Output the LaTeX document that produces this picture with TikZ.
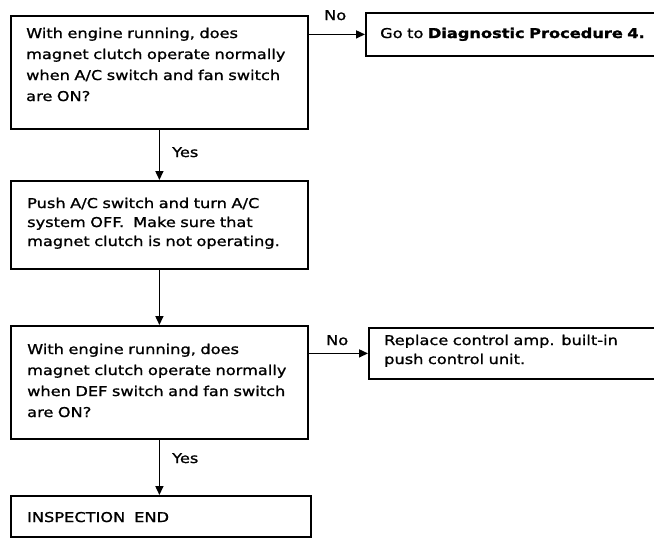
\documentclass[tikz,border=0pt]{standalone}
\usepackage{fontspec}
\setmainfont{DejaVu Sans}[FakeStretch=1.2, FakeBold=1.2, BoldFeatures={FakeBold=1.5}]
\usetikzlibrary{arrows.meta}
\tikzset{
  box/.style={draw, line width=1.8pt, rectangle, inner sep=0pt, anchor=north west},
  txt/.style={anchor=base west, inner sep=0pt, align=left, text width=300pt,
    font=\fontsize{13.5}{21}\selectfont},
  lbl/.style={anchor=base west, inner sep=0pt, font=\fontsize{13.5}{16}\selectfont},
  arr/.style={line width=1.5pt, -{Triangle[length=9pt,width=8pt]}}
}
\begin{document}
\begin{tikzpicture}[x=1pt,y=-1pt]
\useasboundingbox (0,0) rectangle (654,538);
% boxes
\node[box, minimum width=297pt, minimum height=113pt] (q1) at (10,15) {};
\node[box, minimum width=300pt, minimum height=43pt] (q2) at (365,12) {};
\node[box, minimum width=297pt, minimum height=88pt] (q3) at (10,180) {};
\node[box, minimum width=297pt, minimum height=113pt] (q4) at (10,325) {};
\node[box, minimum width=300pt, minimum height=51pt] (q5) at (368,327) {};
\node[box, minimum width=300pt, minimum height=41pt] (q6) at (10,495) {};
% texts
\node[txt] (t1) at (26,38) {With engine running, does\\magnet clutch operate normally\\when A/C switch and fan switch\\are ON?};
\node[txt] (t2) at (380,38) {Go to \textbf{Diagnostic Procedure 4.}};
\node[txt, font=\fontsize{13.5}{19}\selectfont] (t3) at (27,208) {Push A/C switch and turn A/C\\system OFF.\ \ Make sure that\\magnet clutch is not operating.};
\node[txt] (t4) at (27,354) {With engine running, does\\magnet clutch operate normally\\when DEF switch and fan switch\\are ON?};
\node[txt, font=\fontsize{13.5}{19}\selectfont] (t5) at (384,345) {Replace control amp. built-in\\push control unit.};
\node[txt] (t6) at (27,522) {INSPECTION\ \ END};
% labels
\node[lbl] (n1) at (324,20) {No};
\node[lbl] (y1) at (172,157) {Yes};
\node[lbl] (n2) at (326,345) {No};
\node[lbl] (y2) at (172,463) {Yes};
% connectors
\draw[arr] (q2.west -| q1.east) -- (q2.west);
\draw[arr] (q1.south) -- (q3.north);
\draw[arr] (q3.south) -- (q4.north);
\draw[arr] (q5.west -| q4.east) -- (q5.west);
\draw[arr] (q4.south) -- (q6.north -| q4.south);
\end{tikzpicture}
\end{document}
